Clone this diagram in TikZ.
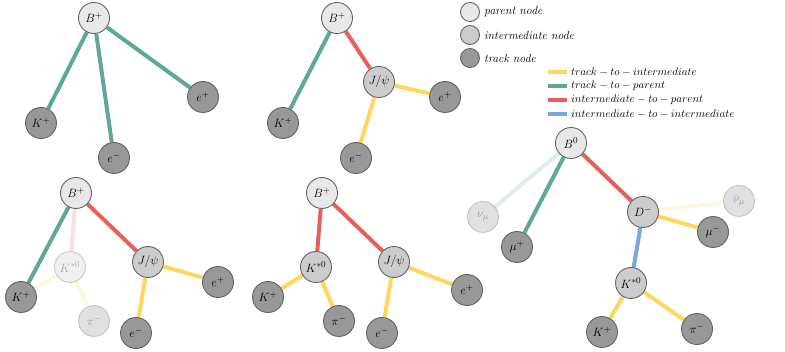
\documentclass[tikz,border=0pt]{standalone}
\usetikzlibrary{backgrounds}
\definecolor{cyel}{RGB}{255,215,95}
\definecolor{cgrn}{RGB}{95,168,153}
\definecolor{cred}{RGB}{229,97,92}
\definecolor{cblu}{RGB}{123,165,226}
\definecolor{cpar}{RGB}{232,232,232}
\definecolor{cint}{RGB}{204,204,204}
\definecolor{ctrk}{RGB}{152,152,152}
\definecolor{cbrd}{RGB}{100,100,100}
\tikzset{
 pnode/.style={circle, draw=cbrd, line width=0.9pt, fill=cpar, minimum size=31pt, inner sep=0pt, font=\fontsize{12.5}{14}\selectfont},
 inode/.style={pnode, fill=cint},
 tnode/.style={pnode, fill=ctrk},
 lgnode/.style={pnode, minimum size=19pt},
 lgtext/.style={anchor=west, inner sep=0pt, font=\fontsize{11.8}{13}\selectfont},
 lgmath/.style={lgtext, font=\fontsize{11.3}{13}\selectfont},
 faded/.style={opacity=0.3},
 fadedge/.style={opacity=0.2},
 edge/.style={line width=4pt},
 ti/.style={edge, draw=cyel}, tp/.style={edge, draw=cgrn},
 ip/.style={edge, draw=cred}, ii/.style={edge, draw=cblu},
}
\begin{document}
\begin{tikzpicture}[x=1pt,y=-1pt]
\useasboundingbox (0,0) rectangle (785,352);
% Panel 1
\node[pnode] (a1) at (94,18) {$B^+$};
\node[tnode] (a2) at (41,123) {$K^+$};
\node[tnode] (a3) at (114,158) {$e^-$};
\node[tnode] (a4) at (203,97) {$e^+$};
% Panel 2
\node[pnode] (b1) at (337,18) {$B^+$};
\node[tnode] (b2) at (283,123) {$K^+$};
\node[inode] (b3) at (379,82) {$J/\psi$};
\node[tnode] (b4) at (445,97) {$e^+$};
\node[tnode] (b5) at (356,158) {$e^-$};
% Panel 3
\node[pnode] (c1) at (76,193) {$B^+$};
\node[inode,faded] (c2) at (70,267) {$K^{*0}$};
\node[inode] (c3) at (148,262) {$J/\psi$};
\node[tnode] (c4) at (21,297) {$K^+$};
\node[tnode,faded] (c5) at (94,321) {$\pi^-$};
\node[tnode] (c6) at (136,333) {$e^-$};
\node[tnode] (c7) at (218,282) {$e^+$};
% Panel 4
\node[pnode] (d1) at (322,193) {$B^+$};
\node[inode] (d2) at (316,267) {$K^{*0}$};
\node[inode] (d3) at (394,262) {$J/\psi$};
\node[tnode] (d4) at (268,297) {$K^+$};
\node[tnode] (d5) at (339,321) {$\pi^-$};
\node[tnode] (d6) at (382,333) {$e^-$};
\node[tnode] (d7) at (467,290) {$e^+$};
% Panel 5
\node[pnode] (f1) at (571,143) {$B^0$};
\node[tnode,faded] (f2) at (483,217) {$\nu_\mu$};
\node[tnode] (f3) at (517,247) {$\mu^+$};
\node[inode] (f4) at (643,212) {$D^-$};
\node[tnode,faded] (f5) at (739,201) {$\bar{\nu}_\mu$};
\node[tnode] (f6) at (713,232) {$\mu^-$};
\node[inode] (f7) at (631,283) {$K^{*0}$};
\node[tnode] (f8) at (602,332) {$K^+$};
\node[tnode] (f9) at (697,329) {$\pi^-$};
% Legend
\node[lgnode] (l1) at (470,12) {};
\node[lgnode, fill=cint] (l2) at (470,35) {};
\node[lgnode, fill=ctrk] (l3) at (470,58) {};
\node[lgtext] (t1) at (484,12) {\textit{parent node}};
\node[lgtext] (t2) at (484,35) {\textit{intermediate node}};
\node[lgtext] (t3) at (484,58) {\textit{track node}};
\coordinate (s1a) at (548,72); \coordinate (s1b) at (567,72);
\coordinate (s2a) at (548,86); \coordinate (s2b) at (567,86);
\coordinate (s3a) at (548,100); \coordinate (s3b) at (567,100);
\coordinate (s4a) at (548,114); \coordinate (s4b) at (567,114);
\draw[ti] (s1a) -- (s1b);
\draw[tp] (s2a) -- (s2b);
\draw[ip] (s3a) -- (s3b);
\draw[ii] (s4a) -- (s4b);
\node[lgmath] (u1) at (571,72) {$track-to-intermediate$};
\node[lgmath] (u2) at (571,86) {$track-to-parent$};
\node[lgmath] (u3) at (571,100) {$intermediate-to-parent$};
\node[lgmath] (u4) at (571,114) {$intermediate-to-intermediate$};
% Edges
\begin{scope}[on background layer]
\draw[tp] (a1) -- (a2); \draw[tp] (a1) -- (a3); \draw[tp] (a1) -- (a4);
\draw[tp] (b1) -- (b2); \draw[ip] (b1) -- (b3); \draw[ti] (b3) -- (b4); \draw[ti] (b3) -- (b5);
\draw[tp] (c1) -- (c4); \draw[ip,fadedge] (c1) -- (c2); \draw[ip] (c1) -- (c3);
\draw[ti,fadedge] (c2) -- (c4); \draw[ti,fadedge] (c2) -- (c5);
\draw[ti] (c3) -- (c6); \draw[ti] (c3) -- (c7);
\draw[ip] (d1) -- (d2); \draw[ip] (d1) -- (d3);
\draw[ti] (d2) -- (d4); \draw[ti] (d2) -- (d5);
\draw[ti] (d3) -- (d6); \draw[ti] (d3) -- (d7);
\draw[tp,fadedge] (f1) -- (f2); \draw[tp] (f1) -- (f3); \draw[ip] (f1) -- (f4);
\draw[ti,fadedge] (f4) -- (f5); \draw[ti] (f4) -- (f6); \draw[ii] (f4) -- (f7);
\draw[ti] (f7) -- (f8); \draw[ti] (f7) -- (f9);
\end{scope}
\end{tikzpicture}
\end{document}
